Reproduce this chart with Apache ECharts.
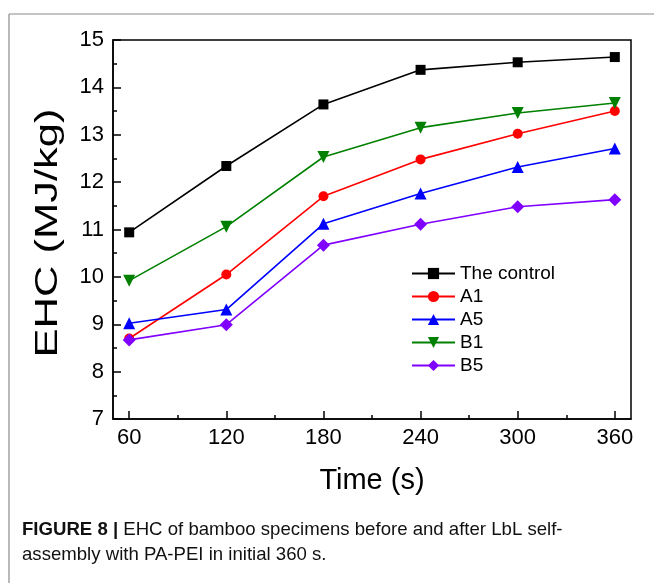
<!DOCTYPE html>
<html>
<head>
<meta charset="utf-8">
<script src="https://cdn.jsdelivr.net/npm/echarts@6/dist/echarts.min.js"></script>
<style>
html,body{margin:0;padding:0;background:#fff;}
#chart{width:654px;height:583px;}
</style>
</head>
<body>
<div id="chart"></div>
<script>
// ---- data ----
const times = [60, 120, 180, 240, 300, 360];
const controlVals = [10.94, 12.34, 13.64, 14.37, 14.53, 14.64];
const a1Vals = [8.70, 10.05, 11.70, 12.48, 13.02, 13.50];
const a5Vals = [9.02, 9.31, 11.12, 11.76, 12.32, 12.71];
const b1Vals = [9.92, 11.06, 12.53, 13.15, 13.46, 13.67];
const b5Vals = [8.67, 8.99, 10.67, 11.11, 11.48, 11.63];
const xTickLabels = [60, 120, 180, 240, 300, 360];
const xMinorTicks = [90, 150, 210, 270, 330];
const seriesNames = ['The control', 'A1', 'A5', 'B1', 'B5'];
const yTitle = 'EHC (MJ/kg)';
const xTitle = 'Time (s)';
const captionBold = 'FIGURE 8 |';
const captionRest = ' EHC of bamboo specimens before and after LbL self-';
const captionLine2 = 'assembly with PA-PEI in initial 360 s.';

const FONT = 'Liberation Sans, Arial, Helvetica, sans-serif';
const pairs = vals => times.map((t, i) => [t, vals[i]]);

const chart = echarts.init(document.getElementById('chart'), null, {renderer: 'canvas'});

const axisLineStyle = {color: '#000', width: 1.5};

function lineSeries(name, vals, color, symbol, size, rotate) {
  return {
    name: name,
    type: 'line',
    data: pairs(vals),
    symbol: symbol,
    symbolSize: size,
    symbolRotate: rotate || 0,
    lineStyle: {color: color, width: 1.6},
    itemStyle: {color: color},
    z: 3
  };
}

const option = {
  animation: false,
  backgroundColor: '#fff',
  grid: {
    left: 113, right: 23, top: 40, bottom: 164,
    show: true, borderColor: '#000', borderWidth: 1.5, backgroundColor: 'transparent'
  },
  legend: {
    orient: 'vertical',
    left: 406, top: 259,
    itemWidth: 43, itemHeight: 14, itemGap: 4,
    textStyle: {fontSize: 19, color: '#000', fontFamily: FONT},
    data: seriesNames
  },
  xAxis: [{
    type: 'value', min: 50, max: 370,
    axisLine: {lineStyle: axisLineStyle},
    axisTick: {inside: true, length: 8, customValues: xTickLabels, lineStyle: axisLineStyle},
    axisLabel: {customValues: xTickLabels, fontSize: 22, color: '#000', margin: 8, fontFamily: FONT},
    splitLine: {show: false},
    name: xTitle, nameLocation: 'middle', nameGap: 47,
    nameTextStyle: {fontSize: 29, color: '#000', fontFamily: FONT}
  }, {
    type: 'value', min: 50, max: 370, position: 'bottom',
    axisLine: {show: false},
    axisTick: {inside: true, length: 4, customValues: xMinorTicks, lineStyle: axisLineStyle},
    axisLabel: {show: false},
    splitLine: {show: false}
  }],
  yAxis: {
    type: 'value', min: 7, max: 15, interval: 1,
    axisLine: {show: true, lineStyle: axisLineStyle},
    axisTick: {show: true, inside: true, length: 8, lineStyle: axisLineStyle},
    minorTick: {show: true, splitNumber: 2, length: 4, lineStyle: axisLineStyle},
    axisLabel: {fontSize: 22, color: '#000', margin: 9, fontFamily: FONT},
    splitLine: {show: false}
  },
  graphic: [
    {type: 'line', shape: {x1: 9, y1: 14, x2: 654, y2: 14}, style: {stroke: '#8a8a8a', lineWidth: 1.2}},
    {type: 'line', shape: {x1: 9, y1: 14, x2: 9, y2: 583}, style: {stroke: '#8a8a8a', lineWidth: 1.2}},
    {
      type: 'text', x: 48, y: 233, rotation: Math.PI / 2, scaleX: 1.36,
      style: {text: yTitle, x: 0, y: 0, fontSize: 32, fontFamily: FONT, fill: '#000',
              textAlign: 'center', textVerticalAlign: 'middle'}
    },
    {
      type: 'text', x: 22, y: 517,
      style: {
        text: '{b|' + captionBold + '}' + captionRest + '\n' + captionLine2,
        fontSize: 18.6, fontFamily: FONT, fill: '#111', lineHeight: 25,
        rich: {b: {fontWeight: 'bold', fontSize: 18.6, fontFamily: FONT, fill: '#111', lineHeight: 25}}
      }
    }
  ],
  series: [
    lineSeries(seriesNames[0], controlVals, '#000000', 'rect', 10),
    lineSeries(seriesNames[1], a1Vals, '#ff0000', 'circle', 10),
    lineSeries(seriesNames[2], a5Vals, '#0000ff', 'triangle', 12),
    lineSeries(seriesNames[3], b1Vals, '#008000', 'triangle', 12, 180),
    lineSeries(seriesNames[4], b5Vals, '#8000ff', 'diamond', 13)
  ]
};
chart.setOption(option);
</script>
</body>
</html>
